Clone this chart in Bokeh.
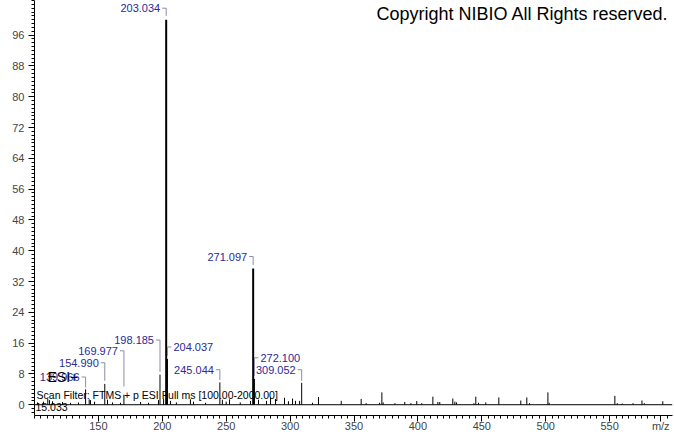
from bokeh.plotting import figure
from bokeh.models import Range1d, FixedTicker, Label, ColumnDataSource, Span
from bokeh.core.properties import value
from bokeh.embed import file_html
from bokeh.resources import INLINE

# ---------------- data ----------------
peak_mz = [102.3, 107.0, 110.4, 111.7, 114.1, 121.9, 128.2, 134.4, 139.966, 142.8, 143.8, 147.0,
           154.990, 157.1, 161.0, 167.3, 169.977, 183.0, 189.2, 197.0, 198.185, 201.0,
           203.034, 204.037, 206.4, 211.0, 222.0, 224.4, 233.8, 245.044, 247.0, 250.0,
           252.6, 261.0, 269.0, 271.097, 272.100, 275.3, 281.5, 284.7, 288.6, 295.6,
           298.7, 301.9, 304.2, 307.4, 309.052, 317.5, 322.2,
           340.0, 355.6, 359.5, 370.0, 371.8, 372.8, 382.0, 389.7, 394.5, 399.1, 403.0,
           411.7, 415.6, 417.1, 427.3, 428.9, 430.2, 443.8, 445.3, 447.4, 453.1, 463.3,
           480.5, 485.2, 487.3, 501.7, 502.7, 554.1, 556.0, 559.9, 568.3, 575.3, 577.1, 591.6]
peak_int = [0.6, 0.8, 1.5, 1.2, 0.9, 0.7, 0.5, 0.6, 4.0, 1.4, 1.2, 0.8,
            5.4, 1.3, 0.6, 0.5, 2.6, 0.7, 0.5, 1.2, 7.8, 1.5,
            100.0, 11.9, 1.0, 0.6, 1.4, 0.8, 0.5, 5.8, 1.3, 0.8,
            1.4, 0.6, 1.0, 35.4, 6.7, 1.3, 1.0, 1.8, 1.5, 1.8,
            0.9, 1.6, 1.0, 1.0, 5.7, 0.5, 2.0,
            1.0, 1.5, 0.4, 0.5, 3.2, 0.6, 0.4, 0.7, 0.4, 0.95, 0.4,
            2.1, 0.7, 0.7, 1.6, 0.8, 0.6, 0.4, 2.1, 0.5, 0.6, 1.9,
            1.1, 1.9, 0.4, 3.2, 0.5, 2.3, 0.4, 0.3, 0.4, 1.1, 0.4, 0.9]

label_mz = [139.966, 154.990, 169.977, 198.185, 203.034, 204.037, 245.044, 271.097, 272.100, 309.052]
label_text = ["139.966", "154.990", "169.977", "198.185", "203.034", "204.037",
              "245.044", "271.097", "272.100", "309.052"]

x_ticks = [150, 200, 250, 300, 350, 400, 450, 500, 550]
y_ticks = [0, 8, 16, 24, 32, 40, 48, 56, 64, 72, 80, 88, 96]
x_title = "m/z"
title_text = "Copyright NIBIO All Rights reserved."
scan_text = "Scan Filter: FTMS + p ESI Full ms [100.00-2000.00]"
mode_text = "ESI+"
rt_text = "15.033"

# ---------------- layout (label placement) ----------------
label_y = [7.2, 10.9, 14.0, 16.8, 103.0, 15.0, 9.1, 38.5, 12.2, 9.1]
label_side = [-1, -1, -1, -1, -1, 1, -1, -1, 1, -1]
label_end = [4.5, 6.2, 4.7, 8.5, 101.0, 12.7, 6.4, 36.3, 7.5, 6.2]

x_start, x_end = 100, 599.2
y_start, y_end = -2.8, 105.0
FONT = "Liberation Sans"
BLUE = "#2a2a96"
BRACKET = "#8c8caa"

p = figure(width=674, height=434, x_range=Range1d(x_start, x_end), y_range=Range1d(y_start, y_end),
           output_backend="svg", toolbar_location=None,
           min_border_left=34, min_border_right=2, min_border_top=0, min_border_bottom=16)
p.outline_line_color = None
p.xgrid.visible = False
p.ygrid.visible = False
p.background_fill_color = "white"

# axes
x_major = x_ticks + [590]
p.xaxis.ticker = FixedTicker(ticks=x_major, minor_ticks=list(range(100, 600, 5)))
p.xaxis.major_label_overrides = {590: x_title}
p.yaxis.ticker = FixedTicker(ticks=y_ticks, minor_ticks=list(range(-2, 106, 1)))
for ax in (p.xaxis[0], p.yaxis[0]):
    ax.axis_line_color = "black"
    ax.major_tick_line_color = "black"
    ax.minor_tick_line_color = "black"
    ax.major_tick_in = 0
    ax.major_tick_out = 6
    ax.minor_tick_in = 0
    ax.minor_tick_out = 3
    ax.major_label_text_font = FONT
    ax.major_label_text_font_size = "11px"
    ax.major_label_text_color = "#444444"
p.xaxis.major_label_standoff = -2
p.yaxis.major_label_standoff = 4

# baseline
p.add_layout(Span(location=0, dimension="width", line_color="black", line_width=1))

# peaks
small = [(m, i) for m, i in zip(peak_mz, peak_int) if i < 20]
big = [(m, i) for m, i in zip(peak_mz, peak_int) if i >= 20]
p.segment(x0=[m for m, _ in small], y0=0, x1=[m for m, _ in small], y1=[i for _, i in small],
          line_color="black", line_width=1)
p.segment(x0=[m for m, _ in big], y0=0, x1=[m for m, _ in big], y1=[i for _, i in big],
          line_color="black", line_width=2)

# label brackets
stub = 3.1
xs = [[m + s * stub, m, m] for m, s in zip(label_mz, label_side)]
ys = [[ly, ly, le] for ly, le in zip(label_y, label_end)]
p.multi_line(xs=xs, ys=ys, line_color=BRACKET, line_width=1)

src = ColumnDataSource(dict(x=label_mz, y=label_y, t=label_text,
                            off=[6 * s for s in label_side],
                            al=["left" if s > 0 else "right" for s in label_side]))
p.text(x="x", y="y", text="t", x_offset="off", text_align="al", text_baseline="middle",
       source=src, text_font=value(FONT), text_font_size="11px", text_color=BLUE)

# other texts
p.add_layout(Label(x=x_end, y=101.4, x_offset=-4, text=title_text, text_align="right",
                   text_baseline="middle", text_font=FONT, text_font_size="18px", text_color="black"))
p.add_layout(Label(x=110.2, y=7.3, text=mode_text, text_align="left", text_baseline="middle",
                   text_font=FONT, text_font_size="14px", text_color="black"))
p.add_layout(Label(x=101.6, y=2.6, text=scan_text, text_align="left", text_baseline="middle",
                   text_font=FONT, text_font_size="10.5px", text_color="black"))
p.add_layout(Label(x=100.8, y=-0.7, text=rt_text, text_align="left", text_baseline="middle",
                   text_font=FONT, text_font_size="10.5px", text_color="black"))

open("out.html", "w").write(file_html(p, INLINE))
